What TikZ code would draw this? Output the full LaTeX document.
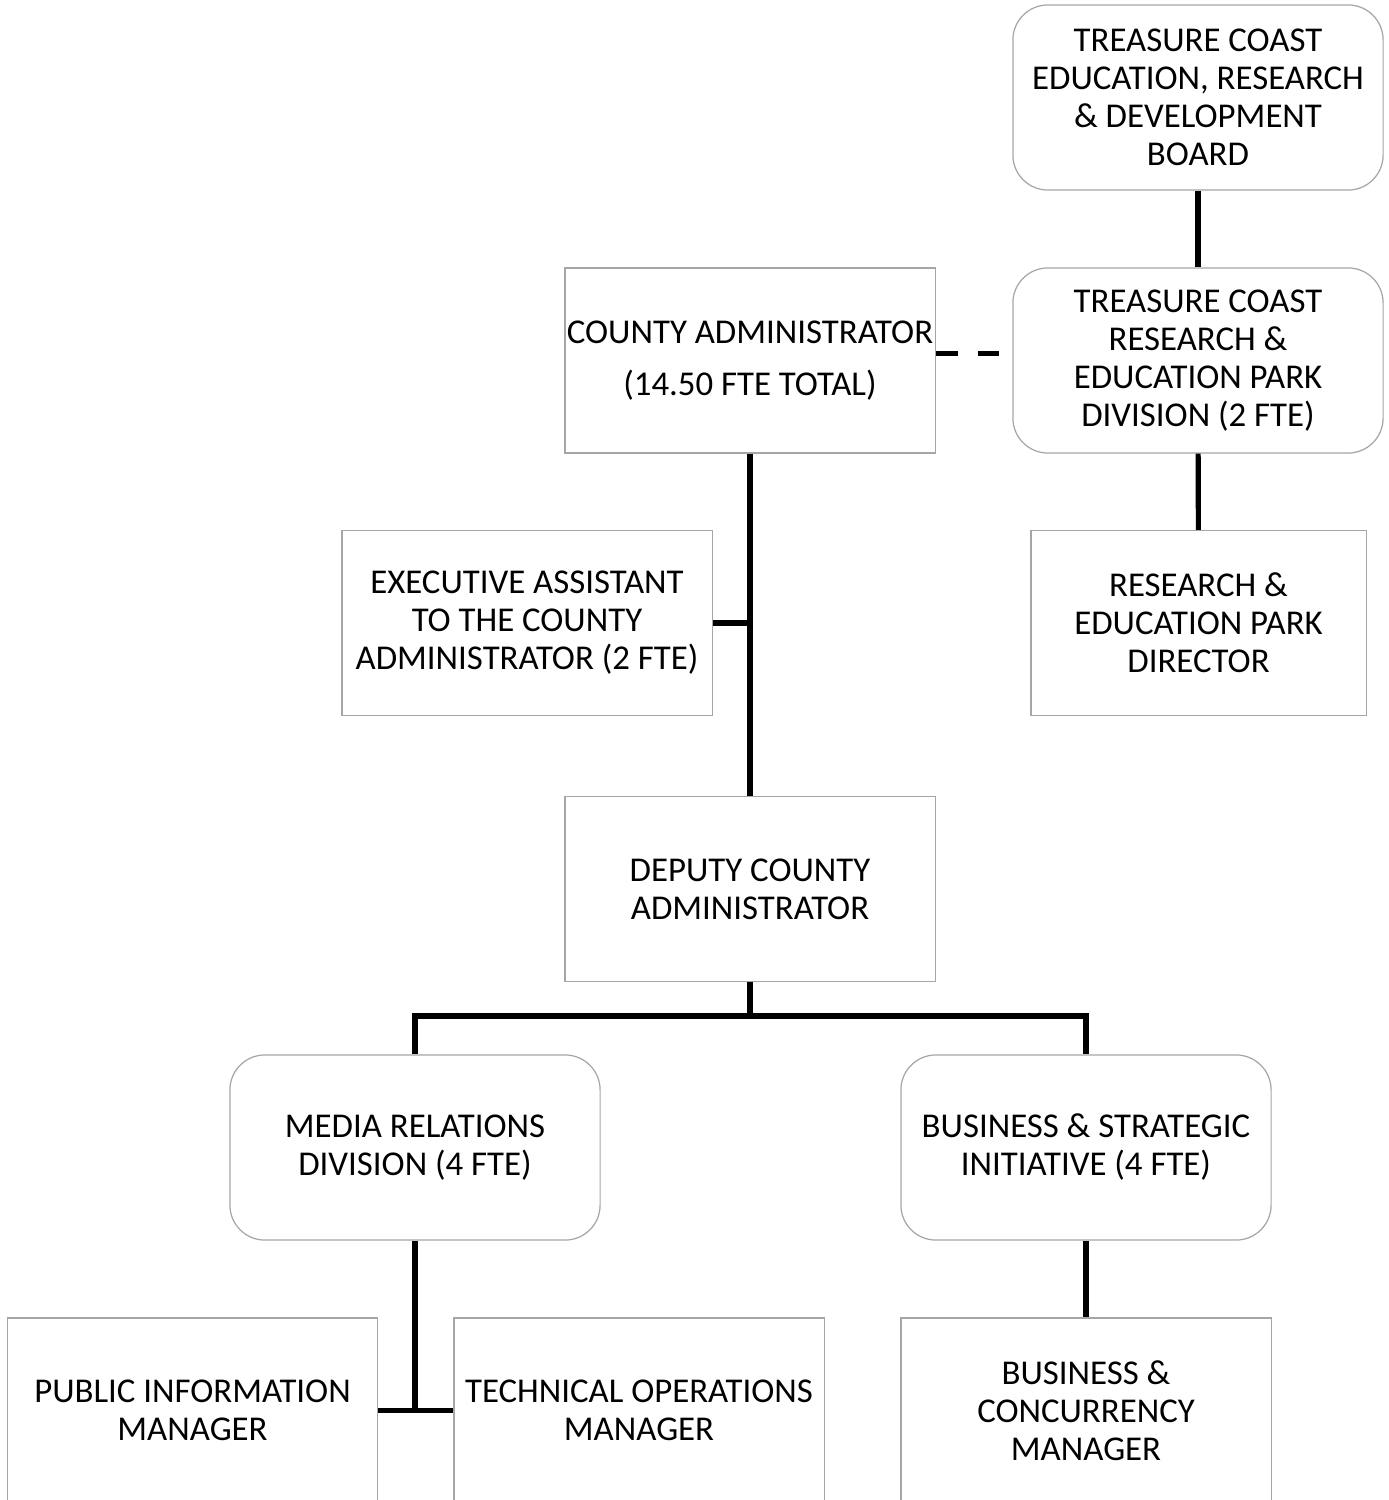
\documentclass[tikz,border=0pt]{standalone}
\usepackage{fontspec}
\setmainfont{Carlito}
\usepackage{tikz}
\usetikzlibrary{positioning,calc}
\definecolor{boxgray}{HTML}{A6A6A6}
\tikzset{
  orgbox/.style={draw=boxgray, line width=0.35pt, rectangle, minimum height=1.85cm, minimum width=3.7cm, align=center, inner sep=0pt, font=\fontsize{9.9}{10.8}\selectfont},
  roundbox/.style={orgbox, rounded corners=0.35cm},
  conn/.style={line width=1.45pt},
  dashconn/.style={conn, dash pattern=on 6.2pt off 5.7pt},
}

\begin{document}
\begin{tikzpicture}[x=0.01cm, y=-0.01cm]
    \useasboundingbox (0,0) rectangle (1389,1500);
    % nodes
    \node[roundbox] (board) at (1198,97.5) {TREASURE COAST\\EDUCATION, RESEARCH\\\& DEVELOPMENT\\BOARD};
    \node[roundbox] (park)  at (1198,360.5) {TREASURE COAST\\RESEARCH \&\\EDUCATION PARK\\DIVISION (2 FTE)};
    \node[orgbox]   (admin) at (750,360.5) {COUNTY ADMINISTRATOR\\[4.2pt](14.50 FTE TOTAL)};
    \node[orgbox]   (assist) at (527,623) {EXECUTIVE ASSISTANT\\TO THE COUNTY\\ADMINISTRATOR (2 FTE)};
    \node[orgbox, minimum width=3.35cm] (director) at (1198.5,623) {RESEARCH \&\\EDUCATION PARK\\DIRECTOR};
    \node[orgbox]   (deputy) at (750,889) {DEPUTY COUNTY\\ADMINISTRATOR};
    \node[roundbox] (media) at (415,1147.5) {MEDIA RELATIONS\\DIVISION (4 FTE)};
    \node[roundbox] (business) at (1086,1147.5) {BUSINESS \& STRATEGIC\\INITIATIVE (4 FTE)};
    \node[orgbox]   (pubinfo) at (192.5,1410.5) {PUBLIC INFORMATION\\MANAGER};
    \node[orgbox]   (techops) at (639,1410.5) {TECHNICAL OPERATIONS\\MANAGER};
    \node[orgbox]   (concur) at (1086,1410.5) {BUSINESS \&\\CONCURRENCY\\MANAGER};
    \coordinate (split) at (750,1016);

    % connectors
    \draw[conn] (board) -- (park);
    \draw[conn] (park) -- (director);
    \draw[dashconn] ([yshift=0.07cm]admin.east) -- ([yshift=0.07cm]park.west);
    \draw[conn] (admin) -- (deputy);
    \draw[conn] (assist.east) -- (assist.east -| admin.south);
    \draw[conn] (deputy) -- (split);
    \draw[conn] (media.north) |- (split) -| (business.north);
    \draw[conn] (media) -- (media.south |- pubinfo.east);
    \draw[conn] (pubinfo.east) -- (techops.west);
    \draw[conn] (business) -- (concur);
  \end{tikzpicture}
\end{document}
